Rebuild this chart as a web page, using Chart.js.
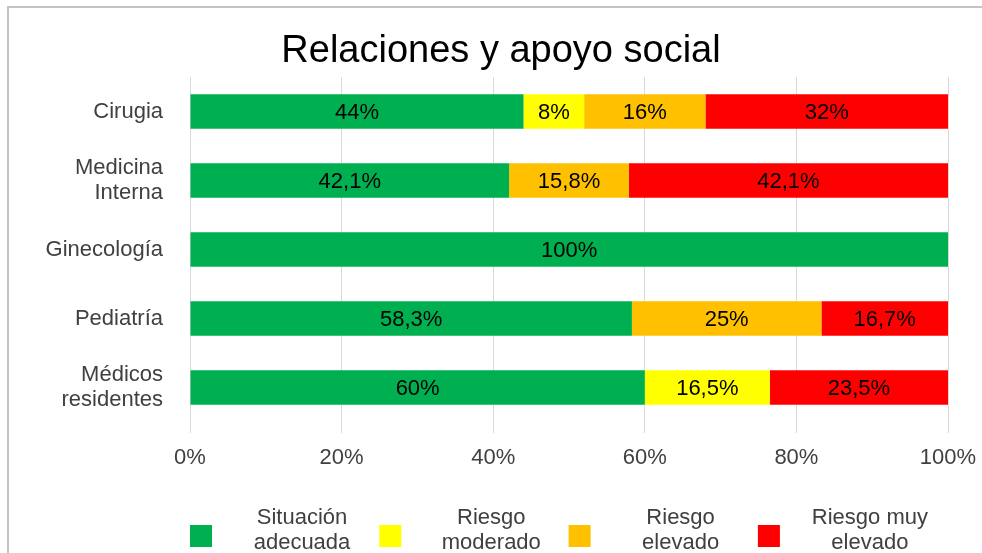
<!DOCTYPE html>
<html lang="es">
<head>
<meta charset="utf-8">
<title>Relaciones y apoyo social</title>
<script src="https://cdn.jsdelivr.net/npm/chart.js@4/dist/chart.umd.min.js"></script>
<style>
  html, body { margin: 0; padding: 0; background: #fff; }
  #wrap { position: relative; width: 982px; height: 553px; }
</style>
</head>
<body>
<div id="wrap"><canvas id="apoyoChart" width="982" height="553"></canvas></div>
<script>
(function(){
  'use strict';

  // Datos (porcentajes)
  const categorias = ['Cirugia', ['Medicina', 'Interna'], 'Ginecología', 'Pediatría', ['Médicos', 'residentes']];
  const series = ['Situación adecuada', 'Riesgo moderado', 'Riesgo elevado', 'Riesgo muy elevado'];
  const situacionAdecuada = [44, 42.1, 100, 58.3, 60];
  const riesgoModerado   = [8, 0, 0, 0, 16.5];
  const riesgoElevado    = [16, 15.8, 0, 25, 0];
  const riesgoMuyElevado = [32, 42.1, 0, 16.7, 23.5];
  const ticksX = [0, 20, 40, 60, 80, 100];

  const colores = ['#00B050', '#FFFF00', '#FFC000', '#FF0000'];
  const FONT = "'Liberation Sans', Arial, sans-serif";

  function fmt(v) {
    return String(v).replace('.', ',') + '%';
  }

  // Marco gris, título, etiquetas de datos y leyenda de dos líneas
  const extras = {
    id: 'extras',
    beforeDraw(chart) {
      const ctx = chart.ctx;
      ctx.save();
      ctx.strokeStyle = '#c4c4c4';
      ctx.lineWidth = 2;
      ctx.beginPath();
      ctx.moveTo(8, 560);
      ctx.lineTo(8, 7);
      ctx.lineTo(990, 7);
      ctx.stroke();
      ctx.restore();
    },
    afterDatasetsDraw(chart) {
      const ctx = chart.ctx;
      ctx.save();
      ctx.font = '22px ' + FONT;
      ctx.fillStyle = '#000';
      ctx.textAlign = 'center';
      ctx.textBaseline = 'middle';
      chart.data.datasets.forEach((ds, i) => {
        const meta = chart.getDatasetMeta(i);
        meta.data.forEach((bar, j) => {
          const v = ds.data[j];
          if (!v) return;
          const p = bar.getCenterPoint();
          ctx.fillText(fmt(v), p.x, p.y + 1);
        });
      });
      ctx.restore();
    },
    afterDraw(chart) {
      const ctx = chart.ctx;
      ctx.save();
      // título
      ctx.font = '38px ' + FONT;
      ctx.fillStyle = '#000';
      ctx.textAlign = 'center';
      ctx.textBaseline = 'middle';
      ctx.fillText('Relaciones y apoyo social', 501, 52);

      // leyenda
      ctx.font = '22px ' + FONT;
      chart.data.datasets.forEach((ds, i) => {
        const bx = 190 + i * 189.3;
        ctx.fillStyle = ds.backgroundColor;
        ctx.fillRect(bx, 525, 22, 22);
        const k = ds.label.lastIndexOf(' ');
        const lines = [ds.label.slice(0, k), ds.label.slice(k + 1)];
        ctx.fillStyle = '#404040';
        lines.forEach((t, n) => ctx.fillText(t, bx + 112, 518 + n * 25));
      });
      ctx.restore();
    }
  };

  function initChart() {
    if (typeof Chart === 'undefined') {
      console.warn('Chart.js no está cargado.');
      return;
    }
    const el = document.getElementById('apoyoChart');
    if (!el) return;

    const valores = [situacionAdecuada, riesgoModerado, riesgoElevado, riesgoMuyElevado];

    const data = {
      labels: categorias,
      datasets: series.map((nombre, i) => ({
        label: nombre,
        data: valores[i],
        backgroundColor: colores[i],
        borderWidth: 0,
        barPercentage: 0.5,
        categoryPercentage: 1
      }))
    };

    const config = {
      type: 'bar',
      data: data,
      options: {
        indexAxis: 'y',
        responsive: false,
        animation: false,
        layout: { padding: { top: 77, right: 34, left: 0, bottom: 0 } },
        plugins: {
          legend: { display: false },
          title: { display: false },
          tooltip: { enabled: false }
        },
        scales: {
          x: {
            stacked: true,
            min: 0,
            max: 100,
            afterBuildTicks: (s) => { s.ticks = ticksX.map(v => ({ value: v })); },
            afterFit: (s) => {
              s.height = 131;
              // la etiqueta "100%" puede sobresalir, como en el original
              s.paddingRight = 0;
              s.paddingLeft = 0;
            },
            grid: { color: '#d9d9d9', lineWidth: 1, tickLength: 11 },
            border: { display: false },
            ticks: {
              padding: 12,
              color: '#404040',
              font: { family: FONT, size: 22 },
              callback: (v) => v + '%'
            }
          },
          y: {
            stacked: true,
            afterFit: (s) => { s.width = 190; },
            grid: { display: false, drawTicks: false },
            border: { display: false },
            ticks: {
              padding: 27,
              color: '#404040',
              font: { family: FONT, size: 22, lineHeight: 1.15 }
            }
          }
        }
      },
      plugins: [extras]
    };

    el.__chartInstance = new Chart(el.getContext('2d'), config);
  }

  if (document.readyState === 'loading') {
    document.addEventListener('DOMContentLoaded', initChart);
  } else {
    initChart();
  }
})();
</script>
</body>
</html>
